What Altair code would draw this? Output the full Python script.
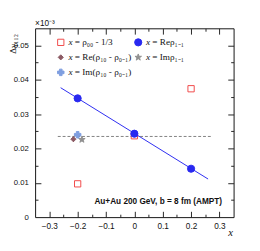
import altair as alt
import pandas as pd

# ---------------- data ----------------
x_pts = [-0.2, 0.0, 0.2]
rho00_y = [0.0097, 0.0237, 0.0374]
rho00_err = [0.0006, 0.0006, 0.0006]
rep_y = [0.0346, 0.0243, 0.0141]
rep_err = [0.0004, 0.0004, 0.0004]
re10_x = [-0.215]
re10_y = [0.0227]
re10_err = [0.0008]
im10_x = [-0.2]
im10_y = [0.0240]
im10_err = [0.0008]
imp_x = [-0.185]
imp_y = [0.0226]
imp_err = [0.0006]
fit_x = [-0.26, 0.26]
fit_y = [0.0377, 0.0111]
base_x = [-0.27, 0.27]
base_y = [0.0235, 0.0235]

x_major = [-0.3, -0.2, -0.1, 0.0, 0.1, 0.2, 0.3]
y_major = [0.0, 0.01, 0.02, 0.03, 0.04, 0.05]
x_all = [round(-0.3 + 0.05 * i, 3) for i in range(13)]
y_all = [round(0.005 * i, 4) for i in range(1, 11)]

legend_labels = ["= ρ₀₀ - 1/3", "= Re(ρ₁₀ - ρ₀₋₁)", "= Im(ρ₁₀ - ρ₀₋₁)",
                 "= Reρ₁₋₁", "= Imρ₁₋₁"]
annotation = "Au+Au 200 GeV, b = 8 fm (AMPT)"

# ---------------- styles ----------------
W, H = 205, 195
RED = "#f04848"
BLUE = "#2828f0"
BROWN = "#8c5a64"
LBLUE = "#7f9fe0"
GRAY = "#909090"
STAR = ("M0,-1L0.2245,-0.309L0.951,-0.309L0.363,0.118L0.588,0.809L0,0.382"
        "L-0.588,0.809L-0.363,0.118L-0.951,-0.309L-0.2245,-0.309Z")
SANS = "Liberation Sans"
SERIF = "Liberation Serif"

xs = alt.Scale(domain=[-0.35, 0.35], nice=False, zero=False)
ys = alt.Scale(domain=[0, 0.055], nice=False, zero=False)

tick_x = {"condition": {"test": "abs(datum.value*10 - round(datum.value*10)) < 0.001", "value": 6}, "value": 3}
tick_y = {"condition": {"test": "abs(datum.value*100 - round(datum.value*100)) < 0.001", "value": 6}, "value": 3}

common = dict(domain=False, grid=False, title=None)
ax_x_lab = alt.Axis(orient="bottom", values=x_major, ticks=False, labelFont=SANS,
                    labelFontSize=8.5, labelPadding=5, labelColor="#111", labelFlush=False,
                    labelExpr="datum.value == 0 ? '0' : format(datum.value, '.1f')", **common)
ax_x_in_b = alt.Axis(orient="top", offset=-H, values=x_all, labels=False,
                     tickSize=tick_x, tickColor="#222", **common)
ax_x_in_t = alt.Axis(orient="bottom", offset=-H, values=x_all, labels=False,
                     tickSize=tick_x, tickColor="#222", **common)
ax_y_lab = alt.Axis(orient="left", values=y_major, ticks=False, labelFont=SANS,
                    labelFontSize=8, labelPadding=7, labelColor="#111", labelFlush=False,
                    labelExpr="datum.value == 0 ? '0' : format(datum.value, '.2f')", **common)
ax_y_in_l = alt.Axis(orient="right", offset=-W, values=y_all, labels=False,
                     tickSize=tick_y, tickColor="#222", **common)
ax_y_in_r = alt.Axis(orient="left", offset=-W, values=y_all, labels=False,
                     tickSize=tick_y, tickColor="#222", **common)


def X(field, axis=None):
    return alt.X(field, type="quantitative", scale=xs, axis=axis)


def Y(field, axis=None):
    return alt.Y(field, type="quantitative", scale=ys, axis=axis)


fit_df = pd.DataFrame({"x": fit_x, "y": fit_y})
base_df = pd.DataFrame({"x": base_x, "y": base_y})


def series(xv, yv, ev):
    return pd.DataFrame({"x": xv, "y": yv, "lo": [a - b for a, b in zip(yv, ev)],
                         "hi": [a + b for a, b in zip(yv, ev)]})


rho_df = series(x_pts, rho00_y, rho00_err)
rep_df = series(x_pts, rep_y, rep_err)
re10_df = series(re10_x, re10_y, re10_err)
im10_df = series(im10_x, im10_y, im10_err)
imp_df = series(imp_x, imp_y, imp_err)

layers = []
# layers that carry the axes
layers.append(alt.Chart(base_df).mark_line(color="#808080", strokeWidth=1, strokeDash=[3, 2])
              .encode(x=X("x", ax_x_lab), y=Y("y", ax_y_lab)))
layers.append(alt.Chart(fit_df).mark_line(color=BLUE, strokeWidth=1)
              .encode(x=X("x", ax_x_in_b), y=Y("y", ax_y_in_l)))
layers.append(alt.Chart(rho_df).mark_rule(color=RED, strokeWidth=1)
              .encode(x=X("x", ax_x_in_t), y=Y("lo", ax_y_in_r), y2="hi"))


def points(df, shape, size, fill, stroke, ebcolor):
    eb = alt.Chart(df).mark_rule(color=ebcolor, strokeWidth=1).encode(
        x=X("x"), y=Y("lo"), y2="hi")
    pt = alt.Chart(df).mark_point(shape=shape, size=size, fill=fill, stroke=stroke,
                                  strokeWidth=1, opacity=1, fillOpacity=1).encode(
        x=X("x"), y=Y("y"))
    return [eb, pt]


layers += points(rho_df, "square", 42, "white", RED, RED)[1:]
layers += points(rep_df, "circle", 55, BLUE, BLUE, BLUE)
layers += points(re10_df, "diamond", 28, BROWN, BROWN, BROWN)
layers += points(imp_df, STAR, 50, GRAY, GRAY, GRAY)
layers += points(im10_df, "cross", 45, LBLUE, LBLUE, LBLUE)

# ---------------- legend (pixel layout) ----------------
leg_shapes = ["square", "diamond", "cross", "circle", STAR]
leg_fill = ["white", BROWN, LBLUE, BLUE, GRAY]
leg_stroke = [RED, BROWN, LBLUE, BLUE, GRAY]
leg_size = [42, 28, 45, 55, 50]
cols = [0, 0, 0, 1, 1]
rows = [0, 1, 2, 0, 1]
leg_df = pd.DataFrame({
    "label": legend_labels,
    "shape": leg_shapes, "fill": leg_fill, "stroke": leg_stroke, "size": leg_size,
    "sx": [26.5 + 80 * c for c in cols],
    "sy": [14.5 + 15.5 * r for r in rows],
})
leg_df["tx"] = leg_df["sx"] + 8
leg_df["ex"] = leg_df["sx"] + 14.5
layers.append(alt.Chart(leg_df).mark_point(opacity=1, fillOpacity=1, strokeWidth=1).encode(
    x=alt.X("sx:Q", scale=None), y=alt.Y("sy:Q", scale=None),
    shape=alt.Shape("shape:N", scale=None), fill=alt.Fill("fill:N", scale=None),
    stroke=alt.Stroke("stroke:N", scale=None), size=alt.Size("size:Q", scale=None)))
layers.append(alt.Chart(leg_df).mark_text(text="x", font=SERIF, fontStyle="italic",
                                          fontSize=9.5, align="left", baseline="middle",
                                          color="#111").encode(
    x=alt.X("tx:Q", scale=None), y=alt.Y("sy:Q", scale=None)))
layers.append(alt.Chart(leg_df).mark_text(font=SERIF, fontSize=9.5, align="left",
                                          baseline="middle", color="#111").encode(
    x=alt.X("ex:Q", scale=None), y=alt.Y("sy:Q", scale=None), text="label:N"))

# ---------------- titles / annotations ----------------
one = pd.DataFrame({"a": [0]})
layers.append(alt.Chart(one).mark_text(text=annotation, font=SANS, fontWeight="bold",
                                       fontSize=8.5, align="right", baseline="middle",
                                       color="#111").encode(x=alt.value(193), y=alt.value(178)))
layers.append(alt.Chart(one).mark_text(text="Δγ₁₁₂", font=SERIF, fontSize=9.5, angle=270,
                                       align="right", baseline="middle", color="#111")
              .encode(x=alt.value(-23), y=alt.value(6)))
layers.append(alt.Chart(one).mark_text(text="×10⁻³", font=SANS, fontSize=8.5, align="left",
                                       baseline="middle", color="#111")
              .encode(x=alt.value(0), y=alt.value(-5)))
layers.append(alt.Chart(one).mark_text(text="x", font=SERIF, fontStyle="italic", fontSize=11,
                                       align="center", baseline="middle", color="#111")
              .encode(x=alt.value(202), y=alt.value(212)))

chart = (alt.layer(*layers)
         .resolve_axis(x="independent", y="independent")
         .properties(width=W, height=H, autosize=alt.AutoSizeParams(type="none"),
                     padding={"left": 28, "top": 17, "right": 19, "bottom": 31})
         .configure_view(stroke="#111", strokeWidth=1))

chart.save("out.html", embed_options={"renderer": "svg", "actions": False})
